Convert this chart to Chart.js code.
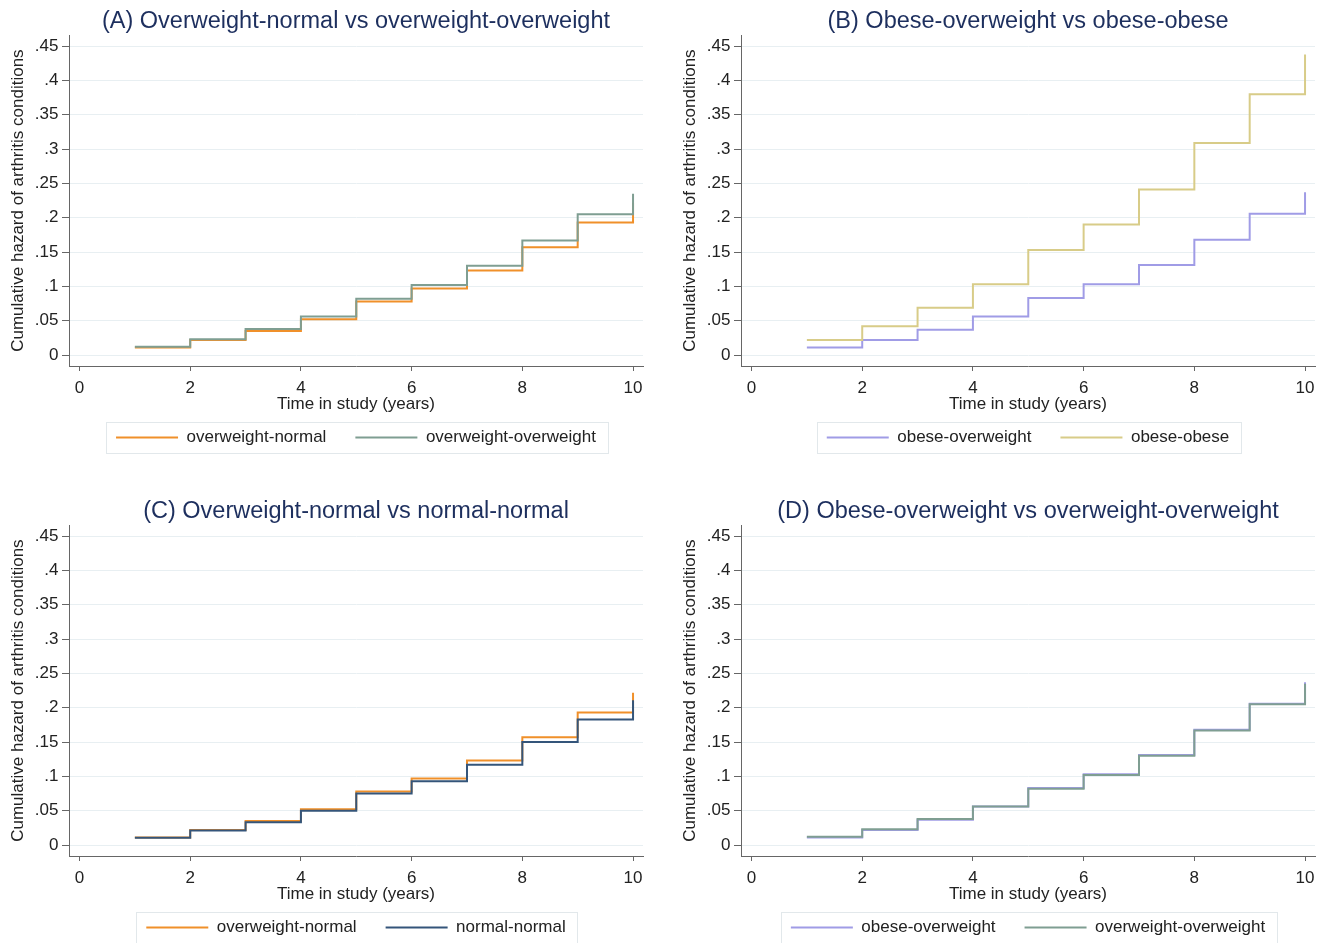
<!DOCTYPE html>
<html lang="en">
<head>
<meta charset="UTF-8">
<title>Cumulative hazard of arthritis conditions</title>
<script src="https://cdn.jsdelivr.net/npm/chart.js@4.4.1/dist/chart.umd.min.js"></script>
<style>
    body { margin: 0; background: #fff; }
    .wrap { position: relative; width: 1331px; height: 943px; overflow: hidden; background: #fff; }
    .wrap canvas { position: absolute; }
</style>
</head>
<body>
<div class="wrap">
    <canvas id="chartA" width="659" height="470" style="left:0px;top:0px"></canvas>
    <canvas id="chartB" width="659" height="470" style="left:672px;top:0px"></canvas>
    <canvas id="chartC" width="659" height="470" style="left:0px;top:490px"></canvas>
    <canvas id="chartD" width="659" height="470" style="left:672px;top:490px"></canvas>
</div>
<script>
// time points (years) and cumulative hazard per group
const years = [1, 2, 3, 4, 5, 6, 7, 8, 9, 10];
const xTicks = [0, 2, 4, 6, 8, 10];
const yTicks = [0, 0.05, 0.1, 0.15, 0.2, 0.25, 0.3, 0.35, 0.4, 0.45];

const overweightNormal     = [0.011, 0.022, 0.035, 0.052, 0.078, 0.097, 0.123, 0.157, 0.193, 0.222];
const overweightOverweight = [0.012, 0.023, 0.038, 0.056, 0.082, 0.102, 0.130, 0.167, 0.205, 0.235];
const obeseOverweight      = [0.011, 0.022, 0.037, 0.056, 0.083, 0.103, 0.131, 0.168, 0.206, 0.237];
const obeseObese           = [0.022, 0.042, 0.069, 0.103, 0.153, 0.190, 0.241, 0.309, 0.380, 0.438];
const normalNormal         = [0.0105, 0.021, 0.033, 0.050, 0.075, 0.093, 0.117, 0.150, 0.183, 0.211];

const colors = {
    'overweight-normal': '#f0902a',
    'overweight-overweight': '#7f9e92',
    'obese-overweight': '#a09ce6',
    'obese-obese': '#d8cc88',
    'normal-normal': '#34557a'
};

const FONT = "'Liberation Sans', Arial, sans-serif";
Chart.defaults.font.family = FONT;
Chart.defaults.color = '#222';

// draws the thin frame round the legend, like Stata does
const legendFrame = {
    id: 'legendFrame',
    afterDraw(chart) {
        const boxes = chart.legend && chart.legend.legendHitBoxes;
        if (!boxes || !boxes.length) return;
        const first = boxes[0], last = boxes[boxes.length - 1];
        const ctx = chart.ctx;
        ctx.save();
        ctx.strokeStyle = '#e2e8eb';
        ctx.lineWidth = 1;
        ctx.strokeRect(Math.round(first.left - 10) + 0.5, Math.round(first.top - 7) + 0.5,
            Math.round(last.left + last.width + 12 - (first.left - 10)), 31);
        ctx.restore();
    }
};

function series(label, values, order) {
    return {
        label: label,
        data: years.map((t, i) => ({ x: t, y: values[i] })),
        borderColor: colors[label],
        backgroundColor: colors[label],
        borderWidth: 2,
        pointRadius: 0,
        stepped: true,
        fill: false,
        order: order
    };
}

function makeChart(id, title, first, second) {
    new Chart(document.getElementById(id), {
        type: 'line',
        data: {
            datasets: [
                series(first[0], first[1], 1),
                series(second[0], second[1], 0)
            ]
        },
        options: {
            responsive: false,
            animation: false,
            layout: { padding: { left: 0, right: 16, top: 0, bottom: 14 } },
            plugins: {
                title: {
                    display: true,
                    text: title,
                    fullSize: false,
                    color: '#1d2f5e',
                    font: { size: 23.5, weight: 'normal' },
                    padding: { top: 7, bottom: 0 }
                },
                legend: {
                    position: 'bottom',
                    fullSize: false,
                    labels: {
                        usePointStyle: true,
                        pointStyle: 'line',
                        pointStyleWidth: 62,
                        padding: 29,
                        color: '#222',
                        font: { size: 17 },
                        sort: (a, b) => a.datasetIndex - b.datasetIndex
                    }
                },
                tooltip: { enabled: false }
            },
            scales: {
                x: {
                    type: 'linear',
                    min: -0.19,
                    max: 10.18,
                    afterBuildTicks: s => { s.ticks = xTicks.map(v => ({ value: v })); },
                    afterFit: s => { s.height = 34; },
                    grid: { drawOnChartArea: false, tickLength: 5, tickColor: '#666' },
                    border: { display: true, color: '#666', width: 1 },
                    ticks: { autoSkip: false, maxRotation: 0, padding: 7.5, font: { size: 17 }, color: '#222',
                        callback: v => String(v) },
                    title: { display: true, text: 'Time in study (years)', font: { size: 17 }, color: '#222',
                        padding: { top: 0, bottom: -14.2 } }
                },
                y: {
                    min: -0.016,
                    max: 0.466,
                    afterBuildTicks: s => { s.ticks = yTicks.map(v => ({ value: v })); },
                    afterFit: s => { s.width = 69; },
                    grid: { color: '#e8eff2', lineWidth: 1, tickLength: 7, tickColor: '#666' },
                    border: { display: true, color: '#666', width: 1 },
                    ticks: { autoSkip: false, padding: 3.5, font: { size: 17 }, color: '#222',
                        callback: v => v === 0 ? '0' : String(+v.toFixed(2)).replace(/^0/, '') },
                    title: { display: true, text: 'Cumulative hazard of arthritis conditions',
                        font: { size: 17 }, color: '#222', padding: { top: 8, bottom: 0 } }
                }
            }
        },
        plugins: [legendFrame]
    });
}

makeChart('chartA', '(A) Overweight-normal vs overweight-overweight',
    ['overweight-normal', overweightNormal], ['overweight-overweight', overweightOverweight]);
makeChart('chartB', '(B) Obese-overweight vs obese-obese',
    ['obese-overweight', obeseOverweight], ['obese-obese', obeseObese]);
makeChart('chartC', '(C) Overweight-normal vs normal-normal',
    ['overweight-normal', overweightNormal], ['normal-normal', normalNormal]);
makeChart('chartD', '(D) Obese-overweight vs overweight-overweight',
    ['obese-overweight', obeseOverweight], ['overweight-overweight', overweightOverweight]);
</script>
</body>
</html>
